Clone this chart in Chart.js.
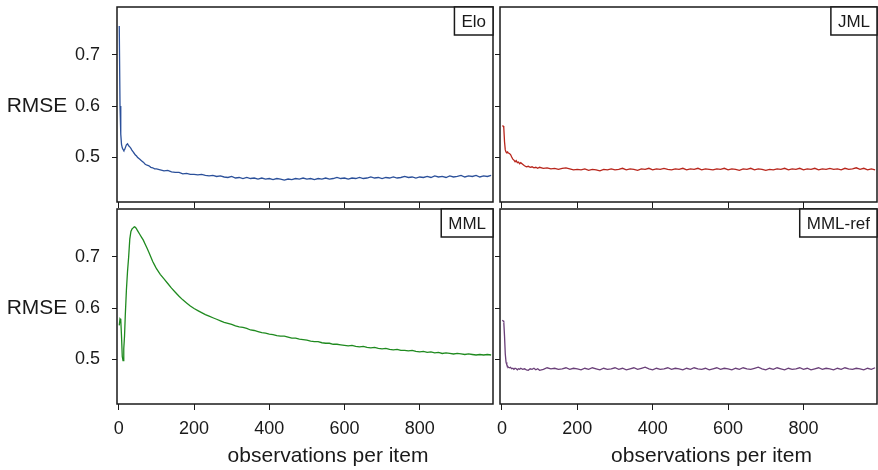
<!DOCTYPE html>
<html>
<head>
<meta charset="utf-8">
<script src="https://cdn.jsdelivr.net/npm/chart.js@4.4.0/dist/chart.umd.min.js"></script>
<style>
    html, body { margin: 0; padding: 0; background: #fff; }
    #wrap { position: relative; width: 878px; height: 470px; }
    #wrap canvas { position: absolute; left: 0; top: 0; }
</style>
</head>
<body>
<div id="wrap">
    <canvas id="elo" width="878" height="470"></canvas>
    <canvas id="jml" width="878" height="470"></canvas>
    <canvas id="mml" width="878" height="470"></canvas>
    <canvas id="mmlref" width="878" height="470"></canvas>
</div>
<script>
// observations per item (x values shared by all panels)
const obs = [1, 3, 5, 7, 9, 11, 13, 15, 17, 20, 23, 26, 29, 32, 35, 38, 41, 44, 47, 50,
    55, 60, 65, 70, 75, 80, 85, 90, 95, 100,
    110, 120, 130, 140, 150, 160, 170, 180, 190, 200,
    210, 220, 230, 240, 250, 260, 270, 280, 290, 300,
    310, 320, 330, 340, 350, 360, 370, 380, 390, 400,
    410, 420, 430, 440, 450, 460, 470, 480, 490, 500,
    510, 520, 530, 540, 550, 560, 570, 580, 590, 600,
    610, 620, 630, 640, 650, 660, 670, 680, 690, 700,
    710, 720, 730, 740, 750, 760, 770, 780, 790, 800,
    810, 820, 830, 840, 850, 860, 870, 880, 890, 900,
    910, 920, 930, 940, 950, 960, 970, 980, 990];

// RMSE per method
const rmseElo = [0.757, 0.60, 0.545, 0.525, 0.518, 0.515, 0.513, 0.514, 0.518, 0.524,
    0.526, 0.522, 0.520, 0.517, 0.513, 0.510, 0.507, 0.504, 0.502, 0.499,
    0.496, 0.493, 0.490, 0.486, 0.484, 0.483, 0.480, 0.479, 0.477, 0.477,
    0.475, 0.473, 0.474, 0.471, 0.470, 0.470, 0.467, 0.468, 0.466, 0.466,
    0.465, 0.466, 0.464, 0.463, 0.464, 0.462, 0.463, 0.461, 0.460, 0.462,
    0.459, 0.460, 0.458, 0.460, 0.458, 0.459, 0.457, 0.459, 0.457, 0.458,
    0.456, 0.458, 0.457, 0.455, 0.457, 0.456, 0.458, 0.457, 0.459, 0.457,
    0.458, 0.456, 0.458, 0.457, 0.459, 0.457, 0.458, 0.460, 0.458, 0.459,
    0.457, 0.459, 0.458, 0.460, 0.458, 0.459, 0.461, 0.459, 0.460, 0.458,
    0.460, 0.459, 0.461, 0.459, 0.460, 0.462, 0.460, 0.461, 0.459, 0.461,
    0.460, 0.462, 0.460, 0.463, 0.461, 0.462, 0.460, 0.463, 0.461, 0.462,
    0.464, 0.461, 0.463, 0.462, 0.464, 0.461, 0.463, 0.462, 0.464];

const rmseJml = [0.561, 0.561, 0.558, 0.530, 0.514, 0.510, 0.509, 0.510, 0.508, 0.507,
    0.505, 0.500, 0.496, 0.494, 0.491, 0.493, 0.489, 0.490, 0.487, 0.489,
    0.486, 0.483, 0.481, 0.482, 0.480, 0.481, 0.479, 0.480, 0.478, 0.480,
    0.478, 0.479, 0.477, 0.478, 0.476, 0.478, 0.479, 0.477, 0.475, 0.476,
    0.475, 0.477, 0.474, 0.476, 0.475, 0.473, 0.476, 0.475, 0.477, 0.475,
    0.476, 0.478, 0.475, 0.477, 0.476, 0.474, 0.477, 0.476, 0.478, 0.475,
    0.477, 0.476, 0.478, 0.476, 0.475, 0.477, 0.476, 0.478, 0.475, 0.477,
    0.476, 0.478, 0.475, 0.477, 0.476, 0.475, 0.477, 0.476, 0.478, 0.475,
    0.477, 0.476, 0.474, 0.477, 0.476, 0.478, 0.475, 0.477, 0.476, 0.474,
    0.476, 0.475, 0.477, 0.476, 0.478, 0.475, 0.477, 0.476, 0.478, 0.475,
    0.477, 0.476, 0.478, 0.475, 0.477, 0.476, 0.478, 0.476, 0.477, 0.475,
    0.478, 0.476, 0.477, 0.479, 0.476, 0.478, 0.475, 0.477, 0.475];

const rmseMml = [0.566, 0.579, 0.577, 0.545, 0.505, 0.497, 0.520, 0.545, 0.585, 0.635,
    0.672, 0.700, 0.735, 0.750, 0.755, 0.757, 0.759, 0.758, 0.755, 0.751,
    0.745, 0.739, 0.733, 0.725, 0.717, 0.709, 0.700, 0.691, 0.684, 0.677,
    0.666, 0.657, 0.648, 0.639, 0.631, 0.623, 0.616, 0.610, 0.604, 0.599,
    0.595, 0.591, 0.587, 0.584, 0.581, 0.578, 0.575, 0.572, 0.570, 0.568,
    0.565, 0.563, 0.562, 0.560, 0.557, 0.556, 0.554, 0.552, 0.551, 0.549,
    0.548, 0.546, 0.545, 0.545, 0.543, 0.541, 0.541, 0.539, 0.538, 0.537,
    0.535, 0.534, 0.534, 0.532, 0.531, 0.531, 0.529, 0.529, 0.528, 0.527,
    0.526, 0.527, 0.525, 0.524, 0.525, 0.523, 0.522, 0.523, 0.521, 0.520,
    0.521, 0.519, 0.518, 0.519, 0.517, 0.517, 0.516, 0.517, 0.515, 0.514,
    0.515, 0.513, 0.514, 0.512, 0.513, 0.511, 0.512, 0.511, 0.510, 0.511,
    0.510, 0.509, 0.510, 0.509, 0.508, 0.509, 0.508, 0.509, 0.508];

const rmseMmlRef = [0.576, 0.575, 0.573, 0.545, 0.510, 0.494, 0.489, 0.486, 0.484, 0.483,
    0.484, 0.481, 0.482, 0.480, 0.482, 0.481, 0.479, 0.481, 0.480, 0.482,
    0.480, 0.481, 0.479, 0.478, 0.481, 0.480, 0.482, 0.479, 0.481, 0.478,
    0.480, 0.483, 0.481, 0.482, 0.480, 0.481, 0.483, 0.480, 0.482, 0.481,
    0.479, 0.482, 0.480, 0.483, 0.481, 0.479, 0.482, 0.480, 0.481, 0.483,
    0.480, 0.482, 0.479, 0.481, 0.483, 0.480, 0.482, 0.484, 0.481, 0.479,
    0.482, 0.480, 0.481, 0.483, 0.480, 0.482, 0.481, 0.479, 0.482, 0.480,
    0.483, 0.481, 0.480, 0.482, 0.479, 0.481, 0.483, 0.480, 0.482, 0.481,
    0.479, 0.482, 0.480, 0.483, 0.481, 0.480, 0.482, 0.484, 0.481, 0.479,
    0.482, 0.480, 0.483, 0.481, 0.479, 0.482, 0.480, 0.481, 0.483, 0.480,
    0.482, 0.479, 0.481, 0.483, 0.480, 0.482, 0.481, 0.479, 0.482, 0.480,
    0.483, 0.481, 0.480, 0.482, 0.481, 0.479, 0.482, 0.480, 0.483];

const xTicks = [0, 200, 400, 600, 800];
const yTicks = [0.5, 0.6, 0.7];

const FONT = "'Liberation Sans', Arial, Helvetica, sans-serif";
const INK = '#1a1a1a';
const Y_W = 50;   // fixed y-axis box width
const X_H = 30;   // fixed x-axis box height

// panel box + strip label + outer axis titles
function panelDecor(label, showYTitle, showXTitle) {
    return {
        id: 'decor',
        afterDraw(chart) {
            const ctx = chart.ctx;
            const a = chart.chartArea;
            ctx.save();
            ctx.strokeStyle = INK;
            ctx.lineWidth = 1.5;
            ctx.strokeRect(a.left, a.top, a.right - a.left, a.bottom - a.top);

            // strip label in the top-right corner
            ctx.font = '17px ' + FONT;
            const w = ctx.measureText(label).width + 14;
            const h = 28;
            ctx.fillStyle = '#fff';
            ctx.fillRect(a.right - w, a.top, w, h);
            ctx.strokeRect(a.right - w, a.top, w, h);
            ctx.fillStyle = INK;
            ctx.textAlign = 'center';
            ctx.textBaseline = 'middle';
            ctx.fillText(label, a.right - w / 2, a.top + h / 2 + 1);

            if (showYTitle) {
                ctx.font = '21px ' + FONT;
                ctx.fillText('RMSE', 37, chart.scales.y.getPixelForValue(0.6));
            }
            if (showXTitle) {
                ctx.font = '21px ' + FONT;
                ctx.textBaseline = 'alphabetic';
                ctx.fillText('observations per item', (a.left + a.right) / 2 + 23, 462);
            }
            ctx.restore();
        }
    };
}

function makePanel(id, label, values, color, box, showYLabels, showXLabels) {
    const ctx = document.getElementById(id).getContext('2d');
    return new Chart(ctx, {
        type: 'line',
        data: {
            datasets: [{
                data: values.map((v, i) => ({ x: obs[i], y: v })),
                borderColor: color,
                borderWidth: 1.3,
                pointRadius: 0,
                tension: 0,
                fill: false
            }]
        },
        options: {
            responsive: false,
            animation: false,
            events: [],
            layout: {
                padding: {
                    left: box.left - Y_W,
                    top: box.top,
                    right: 878 - box.right,
                    bottom: 470 - box.bottom - X_H
                }
            },
            plugins: { legend: { display: false }, tooltip: { enabled: false } },
            scales: {
                x: {
                    type: 'linear',
                    min: -5,
                    max: 995,
                    afterBuildTicks: (s) => { s.ticks = xTicks.map(v => ({ value: v })); },
                    afterFit: (s) => { s.height = X_H; s.paddingLeft = 0; s.paddingRight = 0; },
                    border: { display: false },
                    grid: { drawOnChartArea: false, drawTicks: true, tickLength: 6, color: INK },
                    ticks: {
                        display: showXLabels,
                        color: INK,
                        padding: 8,
                        maxRotation: 0,
                        font: { family: FONT, size: 18 }
                    }
                },
                y: {
                    type: 'linear',
                    min: 0.412,
                    max: 0.794,
                    afterBuildTicks: (s) => { s.ticks = yTicks.map(v => ({ value: v })); },
                    afterFit: (s) => { s.width = Y_W; s.paddingTop = 0; s.paddingBottom = 0; },
                    border: { display: false },
                    grid: { drawOnChartArea: false, drawTicks: true, tickLength: 5, color: INK },
                    ticks: {
                        display: showYLabels,
                        color: INK,
                        padding: 12,
                        callback: (v) => v.toFixed(1),
                        font: { family: FONT, size: 18 }
                    }
                }
            }
        },
        plugins: [panelDecor(label, showYLabels, showXLabels)]
    });
}

makePanel('elo', 'Elo', rmseElo, '#2b509a', { left: 117, top: 7, right: 493, bottom: 202 }, true, false);
makePanel('jml', 'JML', rmseJml, '#b8261c', { left: 500, top: 7, right: 877, bottom: 202 }, false, false);
makePanel('mml', 'MML', rmseMml, '#1f8a1f', { left: 117, top: 209, right: 493, bottom: 404 }, true, true);
makePanel('mmlref', 'MML-ref', rmseMmlRef, '#6a3f78', { left: 500, top: 209, right: 877, bottom: 404 }, false, true);
</script>
</body>
</html>
